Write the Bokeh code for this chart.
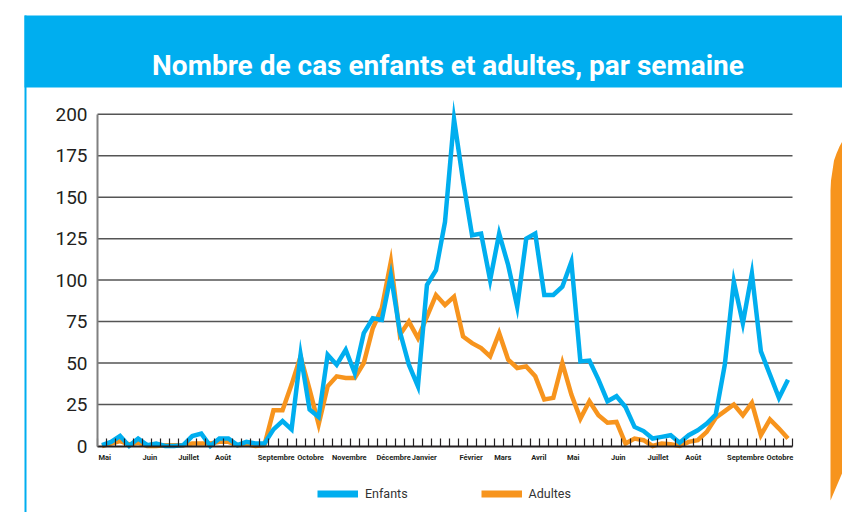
from bokeh.plotting import figure
from bokeh.models import (ColumnDataSource, FixedTicker, CustomJSTickFormatter, Legend,
                          LegendItem, Range1d)
from bokeh.core.properties import value
from bokeh.embed import file_html
from bokeh.resources import INLINE

# ---------------- data ----------------
enfants = [0.5, 2.5, 6, 0, 4.5, 0.5, 1.5, 0, 0, 0.5,
           6, 7.5, 0, 4.5, 4.5, 0.5, 2.5, 1.5, 1.5, 10,
           15, 10, 55, 22, 17.5, 55, 49, 58, 44, 68,
           77, 76, 103, 69, 49, 36, 97, 106, 135, 197,
           160, 127, 128, 100, 128, 109, 84, 125, 128, 91,
           91, 96, 111, 51, 51.5, 40, 27, 30, 23.5, 11.5,
           9, 4.5, 5.5, 6.5, 2, 6.5, 9.5, 13.5, 19, 49,
           99, 74, 104, 57, 43, 29, 40]
adultes = [0, 1.5, 3, 1, 2, 0, 0, 0.5, 0.5, 0.5,
           1.5, 1.5, 1.5, 2.5, 2.5, 0.5, 1, 0, 0.5, 21.5,
           21.5, 37, 54, 34, 13, 36, 42, 41, 41, 50,
           71, 83, 111, 67, 75, 65, 78, 91, 85, 90,
           66, 62, 59, 54, 68, 52, 47, 48, 42, 28,
           29, 50, 31, 16.5, 27, 18.5, 14, 14.5, 1.5, 4.5,
           3.5, 0, 1.5, 1, 0, 2.5, 3.5, 8.5, 17, 21,
           25, 18.5, 26, 6.5, 16, 10.5, 4.5]
weeks = list(range(len(enfants)))
month_labels = ["Mai", "Juin", "Juillet", "Août", "Septembre", "Octobre", "Novembre",
                "Décembre", "Janvier", "Février", "Mars", "Avril", "Mai", "Juin",
                "Juillet", "Août", "Septembre", "Octobre"]
month_pos = [0.3, 5.3, 9.6, 13.4, 19.3, 23.1, 27.4, 32.3, 35.7, 40.9, 44.4, 48.4,
             52.2, 57.2, 61.6, 65.5, 71.3, 75.1]
y_ticks = [0, 25, 50, 75, 100, 125, 150, 175, 200]
title_text = "Nombre de cas enfants et adultes, par semaine"

BLUE = "#00AEEF"
ORANGE = "#F7941D"
FONT = "Roboto"

W, H = 842, 512
# plot area on the page (pixels)
PX_L, PX_R = 97.0, 792.0          # x = -0.5 .. 76.5
Y_TOP_PX, Y_TOP_V = 113.7, 200.0  # pixel of value 200
Y0_PX = 445.5                     # pixel of value 0

n = len(weeks)
xs = (PX_R - PX_L) / n
x_start = -0.5 - PX_L / xs
x_end = (n - 0.5) + (W - PX_R) / xs
ys = (Y0_PX - Y_TOP_PX) / Y_TOP_V
y_end = Y0_PX / ys
y_start = -(H - Y0_PX) / ys

src = ColumnDataSource(dict(x=weeks, enfants=enfants, adultes=adultes))

p = figure(width=W, height=H, output_backend="svg", toolbar_location=None,
           x_range=Range1d(x_start, x_end), y_range=Range1d(y_start, y_end),
           min_border=0)
p.min_border_left = p.min_border_right = p.min_border_top = p.min_border_bottom = 0
p.outline_line_color = None
p.background_fill_color = "white"
p.border_fill_color = "white"
p.extra_x_ranges = {"px": Range1d(0, W)}
p.extra_y_ranges = {"px": Range1d(H, 0)}

# decorations (page-pixel space)
p.quad(left=[24], right=[W + 5], top=[15], bottom=[87], x_range_name="px", y_range_name="px",
       fill_color=BLUE, line_color=None)
p.quad(left=[24], right=[26], top=[15], bottom=[H + 5], x_range_name="px", y_range_name="px",
       fill_color=BLUE, line_color=None)
tab_x = [842, 839, 836, 833.5, 832, 830.5, 830, 830, 842, 850, 850]
tab_y = [140.7, 146, 153, 160, 170, 180, 190, 500, 471.7, 471.7, 140.7]
p.patch(x=tab_x, y=tab_y, x_range_name="px", y_range_name="px",
        fill_color=ORANGE, line_color=None)
p.text(x=[447.5], y=[65], text=[title_text], x_range_name="px", y_range_name="px",
       text_align="center", text_baseline="alphabetic", text_font=value(FONT),
       text_font_style="bold", text_font_size="28px", text_color="white")

# y axis
yax = p.yaxis[0]
yax.fixed_location = -0.5
yax.bounds = (0, 200)
yax.ticker = FixedTicker(ticks=y_ticks)
yax.major_label_text_font = FONT
yax.major_label_text_font_size = "19px"
yax.major_label_text_color = "#231f20"
yax.axis_line_color = "#808080"
yax.axis_line_width = 2
yax.major_tick_line_color = None
yax.major_tick_out = 0
yax.major_tick_in = 0
yax.minor_tick_line_color = None
yax.major_label_standoff = 10

# x axis
xax = p.xaxis[0]
xax.fixed_location = 0
xax.bounds = (-0.5, n - 0.5)
xax.ticker = FixedTicker(ticks=month_pos, minor_ticks=[i + 0.5 for i in range(-1, n)])
xax.formatter = CustomJSTickFormatter(args=dict(labels=month_labels), code="return labels[index];")
xax.major_tick_line_color = None
xax.major_tick_out = 0
xax.major_tick_in = 0
xax.minor_tick_in = 8
xax.minor_tick_out = 0
xax.minor_tick_line_color = "#231f20"
xax.minor_tick_line_width = 1.2
xax.axis_line_color = "#231f20"
xax.axis_line_width = 2
xax.major_label_text_font = FONT
xax.major_label_text_font_style = "bold"
xax.major_label_text_font_size = "7.5px"
xax.major_label_text_color = "#231f20"
xax.major_label_standoff = 7

# grid lines (only across the plot width)
p.xgrid.visible = False
p.ygrid.visible = False
grid_vals = y_ticks[1:]
p.segment(x0=[-0.5] * len(grid_vals), x1=[n - 0.5] * len(grid_vals), y0=grid_vals, y1=grid_vals,
          line_color="#555555", line_width=1.5)

# lines
p.line("x", "adultes", source=src, line_color=ORANGE, line_width=4.5, line_join="miter")
p.line("x", "enfants", source=src, line_color=BLUE, line_width=4.5, line_join="miter")

# legend (hidden twins with thicker strokes for the swatches)
lb = p.line("x", "enfants", source=src, line_color=BLUE, line_width=7, visible=False)
la = p.line("x", "adultes", source=src, line_color=ORANGE, line_width=7, visible=False)
legend = Legend(items=[LegendItem(label="Enfants", renderers=[lb]),
                       LegendItem(label="Adultes", renderers=[la])],
                orientation="horizontal", location=(317, H - 501.5),
                glyph_width=41, glyph_height=17, label_height=17, label_standoff=7,
                spacing=73, padding=0, margin=0, border_line_color=None,
                background_fill_alpha=0, label_text_font=FONT,
                label_text_font_size="12.5px", label_text_color="#333333")
p.add_layout(legend, "center")

open("out.html", "w").write(file_html(p, INLINE))
